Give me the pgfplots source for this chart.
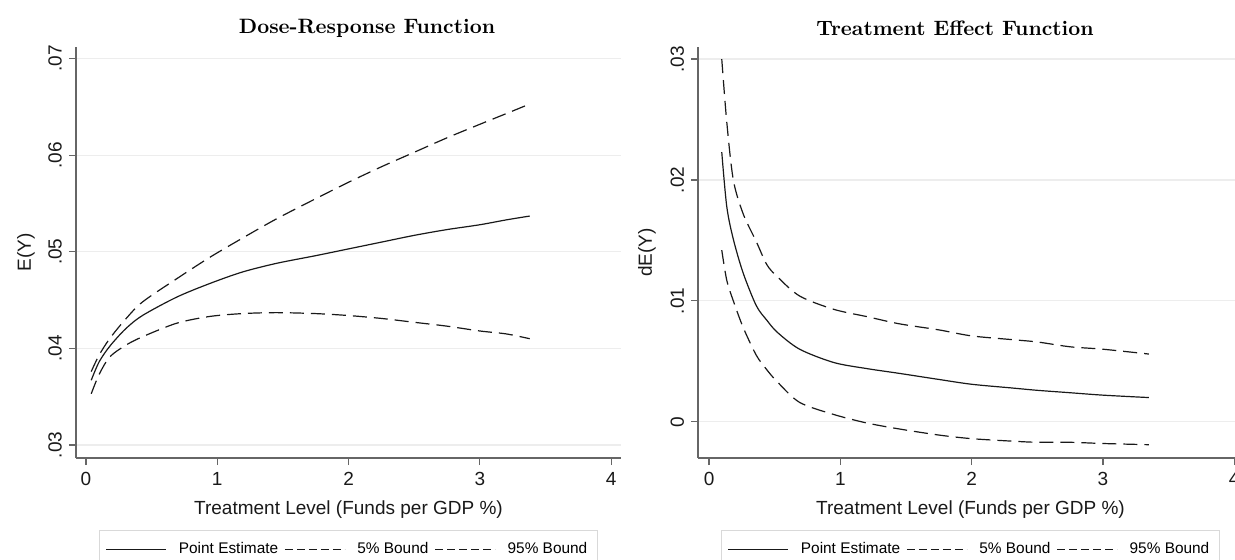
\documentclass[border=0pt]{standalone}
\usepackage{fontspec}
\setsansfont{Liberation Sans}
\usepackage{pgfplots}
\usepackage{pgfplotstable}
\pgfplotsset{compat=1.18}

\pgfplotstableread{
x     pe     lo     hi
0.04  0.0367 0.0353 0.0376
0.10  0.0386 0.0373 0.0393
0.18  0.0402 0.0391 0.0410
0.30  0.0420 0.0403 0.0430
0.43  0.0434 0.0412 0.0448
0.69  0.0453 0.0426 0.0472
0.94  0.0467 0.0433 0.0494
1.19  0.0479 0.0436 0.0514
1.45  0.0488 0.0437 0.0534
1.75  0.0496 0.0436 0.0555
2.00  0.0503 0.0434 0.0572
2.25  0.0510 0.0431 0.0588
2.50  0.0517 0.0427 0.0603
2.75  0.0523 0.0423 0.0618
3.00  0.0528 0.0418 0.0632
3.20  0.0533 0.0415 0.0643
3.38  0.0537 0.0410 0.0653
}\doseresp

\pgfplotstableread{
x     pe     lo      hi
0.097 0.0223 0.0142  0.0300
0.135 0.0178 0.0117  0.0248
0.185 0.0151 0.0100  0.0200
0.26  0.0123 0.0078  0.0172
0.36  0.0096 0.0055  0.0149
0.44  0.0084 0.0043  0.0130
0.52  0.0074 0.0033  0.0120
0.69  0.0060 0.0016  0.0104
0.95  0.0049 0.0006  0.0093
1.20  0.0044 -0.0001 0.0087
1.45  0.0040 -0.0006 0.0081
1.75  0.0035 -0.0011 0.0076
2.00  0.0031 -0.0014 0.0071
2.30  0.0028 -0.0016 0.0068
2.50  0.0026 -0.0017 0.0066
2.75  0.0024 -0.0017 0.0062
3.00  0.0022 -0.0018 0.0060
3.35  0.0020 -0.0019 0.0056
}\teffect

\pgfplotsset{stata/.style={
  scale only axis, width=272.5pt, height=205.5pt,
  axis x line*=bottom, axis y line*=left,
  axis line style={black!60, line width=0.6pt, -},
  tick align=outside, major tick length=3.5pt,
  tick style={black!60, line width=0.6pt},
  xtick={0,1,2,3,4}, xticklabels={0,1,2,3,4},
  scaled y ticks=false,
  ymajorgrids, grid style={black!7, line width=0.6pt},
  tick label style={font=\sffamily\fontsize{9.5}{11}\selectfont, black!90},
  /pgf/number format/assume math mode=true,
  label style={font=\sffamily\fontsize{9.5}{11}\selectfont, black!90},
  xlabel={Treatment Level (Funds per GDP \%)},
  xlabel style={at={(axis description cs:0.5,-0.1265)}, anchor=center},
  yticklabel style={rotate=90, anchor=south},
  legend style={at={(0.5,-0.175)}, anchor=north, draw=black!15,
    font=\sffamily\fontsize{7.7}{9}\selectfont, inner ysep=4pt, inner xsep=3pt,
    /tikz/every even column/.append style={column sep=1pt},
    /tikz/every odd column/.append style={column sep=4pt}},
  legend columns=3,
  legend cell align=left,
  legend image code/.code={\draw[##1] (0pt,0pt) -- (30pt,0pt);},
  every axis plot/.append style={line width=0.6pt, black!90, smooth, tension=0.5},
  dashedimg/.style={legend image code/.code={\draw[line width=0.6pt, black!90, dash pattern=on 4pt off 2pt] (0pt,0pt) -- (30pt,0pt);}},
  clip=false,
}}

\begin{document}
\begin{tikzpicture}
\useasboundingbox (0,0) rectangle (617.5pt,279.5pt);

\node[font=\bfseries\fontsize{10.4}{12}\selectfont] at (183.5pt,265.5pt) {Dose-Response Function};
\node[font=\bfseries\fontsize{10.4}{12}\selectfont] at (477.5pt,265.5pt) {Treatment Effect Function};

\begin{axis}[stata, at={(38pt,50.5pt)}, anchor=south west,
  xmin=-0.076, xmax=4.075, ymin=0.02865, ymax=0.0712,
  ytick={0.03,0.04,0.05,0.06,0.07}, yticklabels={.03,.04,.05,.06,.07},
  ylabel={E(Y)}, ylabel style={at={(axis description cs:-0.0917,0.5)}, anchor=center}]
\addplot[solid] table[x=x,y=pe] {\doseresp};
\addlegendentry{Point Estimate}
\addplot[dash pattern=on 7pt off 3.5pt, dashedimg] table[x=x,y=lo] {\doseresp};
\addlegendentry{5\% Bound}
\addplot[dash pattern=on 7pt off 3.5pt, dashedimg] table[x=x,y=hi] {\doseresp};
\addlegendentry{95\% Bound}
\end{axis}

\begin{axis}[stata, at={(349pt,50.5pt)}, anchor=south west,
  xmin=-0.084, xmax=4.067, ymin=-0.003, ymax=0.031,
  ytick={0,0.01,0.02,0.03}, yticklabels={0,.01,.02,.03},
  ylabel={dE(Y)}, ylabel style={at={(axis description cs:-0.0936,0.5)}, anchor=center}]
\addplot[solid] table[x=x,y=pe] {\teffect};
\addlegendentry{Point Estimate}
\addplot[dash pattern=on 7pt off 3.5pt, dashedimg] table[x=x,y=lo] {\teffect};
\addlegendentry{5\% Bound}
\addplot[dash pattern=on 7pt off 3.5pt, dashedimg] table[x=x,y=hi] {\teffect};
\addlegendentry{95\% Bound}
\end{axis}
\end{tikzpicture}
\end{document}
